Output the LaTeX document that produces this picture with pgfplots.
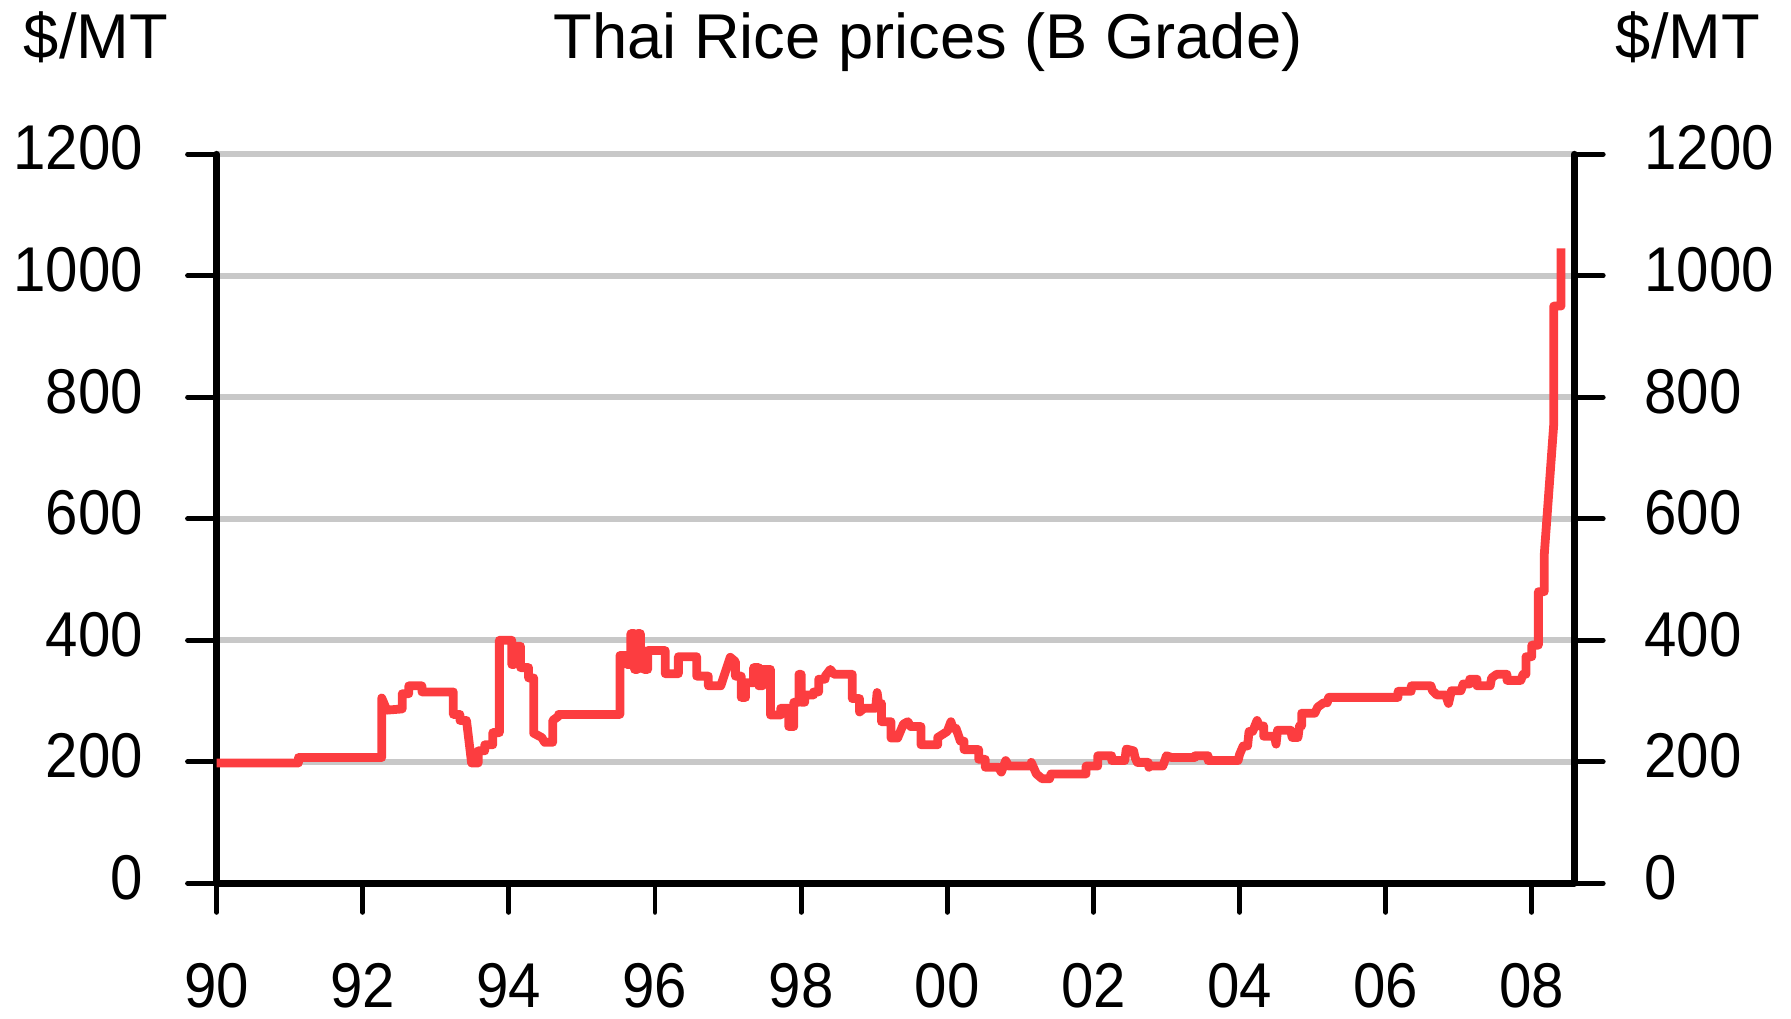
\documentclass[border=0pt]{standalone}
\usepackage{fontspec}
\setmainfont{Liberation Sans}
\newfontfamily\numfont{Liberation Sans}[FakeStretch=0.92]
\usepackage{pgfplots}
\pgfplotsset{compat=1.18}
\definecolor{ricered}{RGB}{252,61,64}
\definecolor{gridgray}{RGB}{200,200,200}
\begin{document}
\begin{tikzpicture}
\path[use as bounding box] (0,0) rectangle (179.1mm,101.8mm);
\pgfplotsset{
  base/.style={
    at={(21.66mm,13.47mm)}, anchor=south west,
    scale only axis, width=135.76mm, height=72.91mm,
    xmin=1990, xmax=2008.58, ymin=0, ymax=1200,
    ytick={0,200,400,600,800,1000,1200},
    yticklabels={0,200,400,600,800,1000,1200},
    tick align=outside, major tick length=2.9mm,
    tick style={black, line width=1.4pt, line cap=round},
    axis line style={black, line width=1.9pt, line cap=round},
    ticklabel style={font=\fontsize{18}{20}\selectfont\numfont, inner sep=0pt},
    clip=false,
  }
}
\begin{axis}[base,
  axis x line*=bottom, axis y line*=left,
  xtick={1990,1992,1994,1996,1998,2000,2002,2004,2006,2008},
  xticklabels={90,92,94,96,98,00,02,04,06,08},
  xticklabel style={anchor=north, yshift=-5.0mm},
  yticklabel style={anchor=east, xshift=-4.4mm, yshift=0.6mm},
  ymajorgrids, grid style={gridgray, line width=1.6pt},
]
\addplot[ricered, line width=2.5pt, line join=round, mark=none] coordinates {
(1990.00,198) (1991.12,198) (1991.12,207) (1992.26,207) (1992.26,305)
(1992.33,285) (1992.54,287) (1992.54,312) (1992.63,312) (1992.63,325)
(1992.81,325) (1992.81,315) (1993.24,315) (1993.24,278) (1993.33,278)
(1993.33,268) (1993.42,268) (1993.49,198) (1993.58,198) (1993.58,218)
(1993.67,218) (1993.67,228) (1993.78,228) (1993.78,248) (1993.87,248)
(1993.87,400) (1994.04,400) (1994.04,360) (1994.07,360) (1994.07,390)
(1994.16,390) (1994.16,355) (1994.27,355) (1994.27,338) (1994.34,338)
(1994.34,247) (1994.45,240) (1994.49,232) (1994.60,232) (1994.60,268)
(1994.68,275) (1994.68,278) (1995.52,278) (1995.52,375) (1995.62,375)
(1995.62,360) (1995.67,360) (1995.67,411) (1995.72,411) (1995.72,352)
(1995.76,352) (1995.76,411) (1995.80,411) (1995.80,383) (1995.85,383)
(1995.85,352) (1995.90,352) (1995.90,383) (1996.14,383) (1996.14,345)
(1996.32,345) (1996.32,373) (1996.57,373) (1996.57,341) (1996.73,341)
(1996.73,325) (1996.90,325) (1997.03,372) (1997.10,365) (1997.10,341)
(1997.18,341) (1997.18,306) (1997.24,306) (1997.24,330) (1997.35,330)
(1997.35,355) (1997.42,355) (1997.42,325) (1997.47,325) (1997.47,352)
(1997.58,352) (1997.58,277) (1997.72,277) (1997.72,288) (1997.83,288)
(1997.83,258) (1997.90,258) (1997.90,298) (1997.97,298) (1997.97,344)
(1998.00,344) (1998.00,298) (1998.05,298) (1998.05,310) (1998.17,310)
(1998.17,315) (1998.24,315) (1998.24,336) (1998.33,336) (1998.33,341)
(1998.40,352) (1998.45,344) (1998.70,344) (1998.70,304) (1998.80,304)
(1998.80,282) (1998.86,288) (1999.02,288) (1999.04,314) (1999.06,296)
(1999.10,296) (1999.10,266) (1999.23,266) (1999.23,239) (1999.32,239)
(1999.40,262) (1999.46,266) (1999.50,258) (1999.64,258) (1999.64,228)
(1999.87,228) (1999.87,240) (2000.00,250) (2000.05,266) (2000.08,255)
(2000.12,255) (2000.18,234) (2000.23,234) (2000.23,220) (2000.43,220)
(2000.43,204) (2000.52,204) (2000.52,191) (2000.70,191) (2000.74,183)
(2000.80,202) (2000.84,193) (2001.15,193) (2001.15,199) (2001.22,180)
(2001.30,172) (2001.40,172) (2001.42,180) (2001.90,180) (2001.90,193)
(2002.06,193) (2002.06,210) (2002.25,210) (2002.25,202) (2002.43,202)
(2002.45,221) (2002.55,218) (2002.57,207) (2002.60,199) (2002.75,199)
(2002.76,191) (2002.78,193) (2002.95,193) (2003.00,210) (2003.07,207)
(2003.39,207) (2003.39,210) (2003.57,210) (2003.57,202) (2003.98,202)
(2004.00,212) (2004.05,226) (2004.11,226) (2004.13,250) (2004.18,250)
(2004.24,268) (2004.27,259) (2004.33,259) (2004.33,242) (2004.48,242)
(2004.50,229) (2004.52,252) (2004.70,252) (2004.72,240) (2004.80,240)
(2004.82,259) (2004.85,259) (2004.85,280) (2005.03,280) (2005.07,290)
(2005.15,297) (2005.20,297) (2005.22,306) (2006.17,306) (2006.17,316)
(2006.35,316) (2006.35,325) (2006.62,325) (2006.64,317) (2006.70,310)
(2006.82,310) (2006.86,296) (2006.90,317) (2007.03,317) (2007.06,328)
(2007.15,328) (2007.15,336) (2007.25,336) (2007.25,325) (2007.43,325)
(2007.45,338) (2007.52,344) (2007.66,344) (2007.66,334) (2007.85,334)
(2007.88,344) (2007.92,344) (2007.92,373) (2008.00,373) (2008.00,392)
(2008.09,392) (2008.09,480) (2008.17,480) (2008.17,540) (2008.30,755)
(2008.30,950) (2008.40,950) (2008.40,1045)
};
\end{axis}
\begin{axis}[base,
  axis x line=none, axis y line*=right,
  yticklabel style={anchor=west, xshift=4.05mm, yshift=0.6mm},
]
\end{axis}
\node[anchor=base, font=\fontsize{18}{20}\selectfont] at (92.8mm,95.9mm) {Thai Rice prices (B Grade)};
\node[anchor=base, font=\fontsize{18}{20}\selectfont] at (9.6mm,95.9mm) {\$/MT};
\node[anchor=base, font=\fontsize{18}{20}\selectfont] at (168.8mm,95.9mm) {\$/MT};
\end{tikzpicture}
\end{document}
